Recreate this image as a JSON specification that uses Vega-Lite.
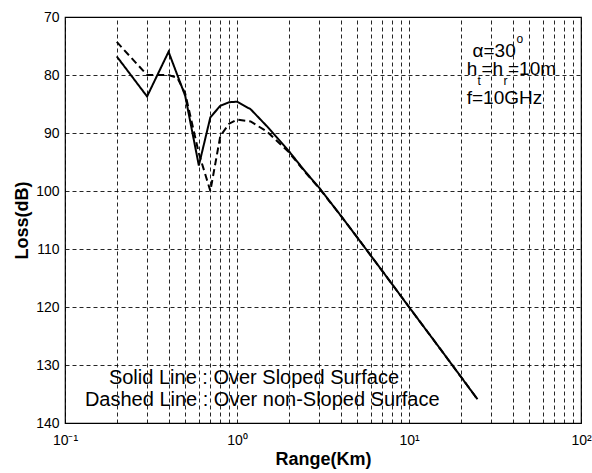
{
  "$schema": "https://vega.github.io/schema/vega-lite/v6.json",
  "autosize": "none",
  "width": 516,
  "height": 406,
  "padding": {"left": 65, "top": 17, "right": 11, "bottom": 50},
  "background": "white",
  "config": {
    "font": "Liberation Sans",
    "view": {"stroke": "black", "strokeWidth": 1.2},
    "axis": {
      "domain": false,
      "grid": true,
      "gridColor": "black",
      "gridDash": [4, 3],
      "gridOpacity": 0.85,
      "gridWidth": 1,
      "ticks": false,
      "labelColor": "black",
      "labelFont": "Liberation Sans",
      "labelFontSize": 14,
      "titleFont": "Liberation Sans",
      "titleFontSize": 18,
      "titleFontWeight": "bold",
      "titleColor": "black"
    }
  },
  "datasets": {
    "curves": [
      {"range": 0.2, "loss": 76.8, "series": "Solid"},
      {"range": 0.3, "loss": 83.7, "series": "Solid"},
      {"range": 0.4, "loss": 76.0, "series": "Solid"},
      {"range": 0.5, "loss": 83.6, "series": "Solid"},
      {"range": 0.6, "loss": 95.6, "series": "Solid"},
      {"range": 0.7, "loss": 87.3, "series": "Solid"},
      {"range": 0.8, "loss": 85.3, "series": "Solid"},
      {"range": 0.9, "loss": 84.7, "series": "Solid"},
      {"range": 1.0, "loss": 84.6, "series": "Solid"},
      {"range": 1.2, "loss": 85.9, "series": "Solid"},
      {"range": 1.5, "loss": 88.9, "series": "Solid"},
      {"range": 2.0, "loss": 93.1, "series": "Solid"},
      {"range": 2.5, "loss": 96.7, "series": "Solid"},
      {"range": 3.0, "loss": 99.4, "series": "Solid"},
      {"range": 4.0, "loss": 104.2, "series": "Solid"},
      {"range": 5.0, "loss": 108.0, "series": "Solid"},
      {"range": 7.0, "loss": 113.8, "series": "Solid"},
      {"range": 10.0, "loss": 120.0, "series": "Solid"},
      {"range": 15.0, "loss": 127.0, "series": "Solid"},
      {"range": 20.0, "loss": 132.0, "series": "Solid"},
      {"range": 25.0, "loss": 135.9, "series": "Solid"},
      {"range": 0.2, "loss": 74.3, "series": "Dashed"},
      {"range": 0.3, "loss": 80.0, "series": "Dashed"},
      {"range": 0.4, "loss": 80.0, "series": "Dashed"},
      {"range": 0.45, "loss": 80.5, "series": "Dashed"},
      {"range": 0.5, "loss": 83.2, "series": "Dashed"},
      {"range": 0.6, "loss": 93.5, "series": "Dashed"},
      {"range": 0.7, "loss": 100.0, "series": "Dashed"},
      {"range": 0.8, "loss": 90.5, "series": "Dashed"},
      {"range": 0.9, "loss": 88.4, "series": "Dashed"},
      {"range": 1.0, "loss": 87.7, "series": "Dashed"},
      {"range": 1.2, "loss": 88.0, "series": "Dashed"},
      {"range": 1.5, "loss": 89.8, "series": "Dashed"},
      {"range": 2.0, "loss": 93.3, "series": "Dashed"},
      {"range": 2.5, "loss": 96.8, "series": "Dashed"},
      {"range": 3.0, "loss": 99.5, "series": "Dashed"},
      {"range": 4.0, "loss": 104.2, "series": "Dashed"},
      {"range": 5.0, "loss": 108.0, "series": "Dashed"},
      {"range": 7.0, "loss": 113.8, "series": "Dashed"},
      {"range": 10.0, "loss": 120.0, "series": "Dashed"},
      {"range": 15.0, "loss": 127.0, "series": "Dashed"},
      {"range": 20.0, "loss": 132.0, "series": "Dashed"},
      {"range": 25.0, "loss": 135.9, "series": "Dashed"}
    ],
    "notes": [
      {"range": 23.4, "loss": 75.78, "label": "α=30"},
      {"range": 21.65, "loss": 79.05, "label": "h"},
      {"range": 26.4, "loss": 79.05, "label": "=h"},
      {"range": 37.63, "loss": 79.05, "label": "=10m"},
      {"range": 21.65, "loss": 84.0, "label": "f=10GHz"}
    ],
    "legendtext": [
      {"range": 0.18, "loss": 132.2, "label": "Solid Line : Over Sloped Surface"},
      {"range": 0.1305, "loss": 136.0, "label": "Dashed Line : Over non-Sloped Surface"}
    ],
    "scripts": [
      {"range": 42.2, "loss": 73.8, "label": "o"},
      {"range": 25.02, "loss": 81.03, "label": "t"},
      {"range": 35.43, "loss": 81.03, "label": "r"}
    ]
  },
  "layer": [
    {
      "data": {"name": "curves"},
      "mark": {"type": "line", "strokeWidth": 2, "color": "black", "clip": true},
      "encoding": {
        "x": {
          "field": "range",
          "type": "quantitative",
          "scale": {"type": "log", "domain": [0.1, 100], "nice": false},
          "axis": {
            "title": "Range(Km)",
            "values": [0.1, 0.2, 0.3, 0.4, 0.5, 0.6, 0.7, 0.8, 0.9, 1, 2, 3, 4, 5, 6, 7, 8, 9, 10, 20, 30, 40, 50, 60, 70, 80, 90, 100],
            "labelExpr": "datum.value == 0.1 ? '10⁻¹' : datum.value == 1 ? '10⁰' : datum.value == 10 ? '10¹' : datum.value == 100 ? '10²' : ''",
            "labelPadding": 10,
            "titlePadding": 3,
            "labelFlush": false
          }
        },
        "y": {
          "field": "loss",
          "type": "quantitative",
          "scale": {"domain": [70, 140], "reverse": true, "nice": false, "zero": false},
          "axis": {
            "title": "Loss(dB)",
            "values": [70, 80, 90, 100, 110, 120, 130, 140],
            "labelPadding": 6,
            "titlePadding": 4
          }
        },
        "detail": {"field": "series"},
        "strokeDash": {
          "field": "series",
          "type": "nominal",
          "scale": {"domain": ["Solid", "Dashed"], "range": [[1, 0], [7, 4]]},
          "legend": null
        }
      }
    },
    {
      "data": {"name": "notes"},
      "mark": {"type": "text", "align": "left", "baseline": "middle", "fontSize": 19, "font": "Liberation Sans", "color": "black"},
      "encoding": {
        "x": {"field": "range", "type": "quantitative"},
        "y": {"field": "loss", "type": "quantitative"},
        "text": {"field": "label"}
      }
    },
    {
      "data": {"name": "legendtext"},
      "mark": {"type": "text", "align": "left", "baseline": "middle", "fontSize": 20, "font": "Liberation Sans", "color": "black"},
      "encoding": {
        "x": {"field": "range", "type": "quantitative"},
        "y": {"field": "loss", "type": "quantitative"},
        "text": {"field": "label"}
      }
    },
    {
      "data": {"name": "scripts"},
      "mark": {"type": "text", "align": "left", "baseline": "middle", "fontSize": 12, "font": "Liberation Sans", "color": "black"},
      "encoding": {
        "x": {"field": "range", "type": "quantitative"},
        "y": {"field": "loss", "type": "quantitative"},
        "text": {"field": "label"}
      }
    }
  ]
}
